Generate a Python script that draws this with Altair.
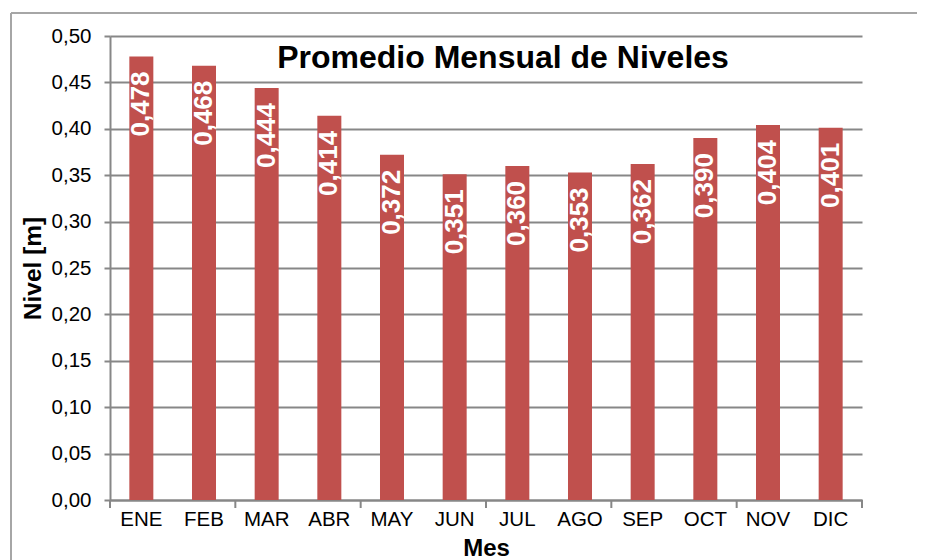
import altair as alt
import pandas as pd

meses = ["ENE", "FEB", "MAR", "ABR", "MAY", "JUN", "JUL", "AGO", "SEP", "OCT", "NOV", "DIC"]
niveles = [0.478, 0.468, 0.444, 0.414, 0.372, 0.351, 0.360, 0.353, 0.362, 0.390, 0.404, 0.401]
y_ticks = [0.00, 0.05, 0.10, 0.15, 0.20, 0.25, 0.30, 0.35, 0.40, 0.45, 0.50]
tick_meses_start = ["ENE", "MAR", "MAY", "JUL", "SEP", "NOV"]
tick_meses_end = ["DIC"]
titulo = "Promedio Mensual de Niveles"

FONT = "Liberation Sans"
BAR = "#C0504D"
GRID = "#878787"
W, H = 752, 464
P = 0.617

df = pd.DataFrame({"mes": meses, "nivel": niveles})

x_enc = alt.X(
    "mes:N",
    sort=meses,
    scale=alt.Scale(domain=meses, paddingInner=P, paddingOuter=P / 2),
    axis=alt.Axis(
        title="Mes",
        labelAngle=0,
        labelFont=FONT,
        labelFontSize=20.5,
        labelColor="#000000",
        labelPadding=9,
        ticks=False,
        domain=True,
        domainColor=GRID,
        domainWidth=2,
        grid=False,
        titleFont=FONT,
        titleFontSize=24,
        titleFontWeight="bold",
        titleColor="#000000",
        titleY=55,
        titleBaseline="alphabetic",
    ),
)

y_enc = alt.Y(
    "nivel:Q",
    scale=alt.Scale(domain=[0, 0.5], nice=False),
    axis=alt.Axis(
        title="Nivel [m]",
        values=y_ticks,
        labelExpr="replace(format(datum.value, '.2f'), '.', ',')",
        labelFont=FONT,
        labelFontSize=20.5,
        labelColor="#000000",
        labelPadding=13,
        tickSize=6,
        tickColor=GRID,
        tickWidth=2,
        domain=True,
        domainColor=GRID,
        domainWidth=2,
        grid=True,
        gridColor=GRID,
        gridWidth=2,
        titleFont=FONT,
        titleFontSize=24.5,
        titleFontWeight="bold",
        titleColor="#000000",
        titleAngle=270,
        titleX=-77,
        titleY=H / 2,
        titleAlign="center",
        titleBaseline="middle",
    ),
)

bars = alt.Chart(df).mark_bar(color=BAR).encode(x=x_enc, y=y_enc)

labels = (
    alt.Chart(df)
    .transform_calculate(txt="replace(format(datum.nivel, '.3f'), '.', ',')")
    .mark_text(
        angle=270,
        align="right",
        baseline="middle",
        dx=-15,
        font=FONT,
        fontSize=26,
        fontWeight="bold",
        color="#FFFFFF",
    )
    .encode(x=alt.X("mes:N", sort=meses), y=alt.Y("nivel:Q"), text="txt:N")
)

tick_scale = alt.Scale(domain=meses, paddingInner=0, paddingOuter=0)
ticks_a = (
    alt.Chart(pd.DataFrame({"mes": tick_meses_start}))
    .mark_rule(color=GRID, strokeWidth=2)
    .encode(
        x=alt.X("mes:N", scale=tick_scale, axis=None, bandPosition=0),
        y=alt.value(H),
        y2=alt.value(H + 8),
    )
)
ticks_b = (
    alt.Chart(pd.DataFrame({"mes": tick_meses_end}))
    .mark_rule(color=GRID, strokeWidth=2)
    .encode(
        x=alt.X("mes:N", scale=tick_scale, axis=None, bandPosition=1),
        y=alt.value(H),
        y2=alt.value(H + 8),
    )
)

title_txt = (
    alt.Chart(pd.DataFrame({"t": [titulo]}))
    .mark_text(
        font=FONT,
        fontSize=32,
        fontWeight="bold",
        color="#000000",
        align="center",
        baseline="alphabetic",
    )
    .encode(text="t:N", x=alt.value(W / 2 + 17), y=alt.value(32))
)

frame_top = (
    alt.Chart(pd.DataFrame({"k": [0]}))
    .mark_rule(color="#A6A6A6", strokeWidth=2)
    .encode(x=alt.value(-99), x2=alt.value(W + 200), y=alt.value(-23))
)
frame_left = (
    alt.Chart(pd.DataFrame({"k": [0]}))
    .mark_rule(color="#A6A6A6", strokeWidth=2)
    .encode(x=alt.value(-99), y=alt.value(-23), y2=alt.value(H + 200))
)

main = alt.layer(bars, labels).resolve_scale(x="shared")
chart = (
    alt.layer(frame_top, frame_left, main, ticks_a, ticks_b, title_txt)
    .resolve_scale(x="independent")
    .properties(
        width=W,
        height=H,
        autosize=alt.AutoSizeParams(type="none"),
        padding={"left": 102, "top": 28, "right": 55, "bottom": 60},
        background="#FFFFFF",
    )
    .configure_view(stroke=None)
)

chart.save("out.html", embed_options={"renderer": "svg", "actions": False})
